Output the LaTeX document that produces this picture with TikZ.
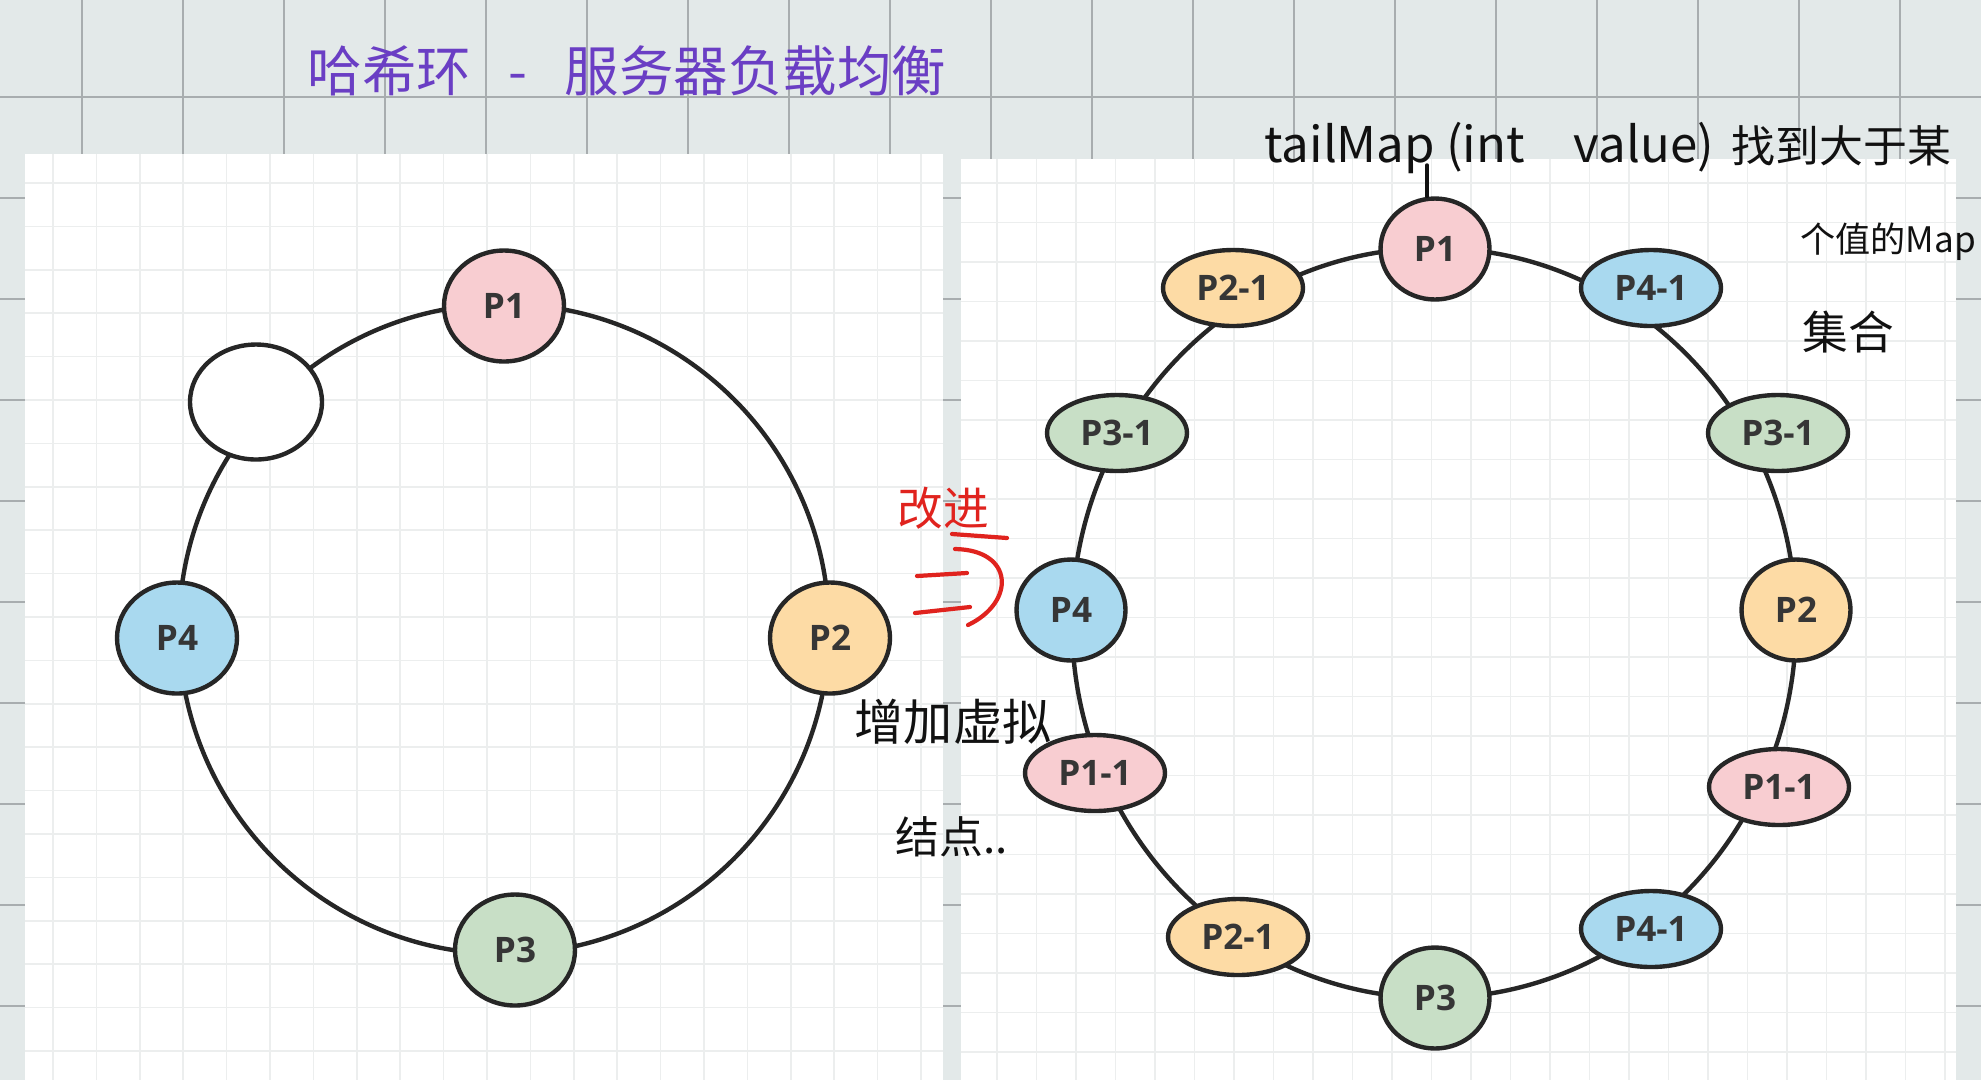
\documentclass[tikz,border=0pt]{standalone}
\usepackage{fontspec}
\usepackage{tikz}
\usetikzlibrary{shapes.geometric}

\newfontfamily\cjkfont{Noto Sans CJK SC}
\newfontfamily\labelfont{Open Sans}

\definecolor{bggray}{HTML}{E3E9E9}
\definecolor{bgline}{HTML}{A8ADAF}
\definecolor{panelline}{HTML}{ECEEEE}
\definecolor{ringline}{HTML}{262626}
\definecolor{labelgray}{HTML}{363636}
\definecolor{pinkfill}{HTML}{F8CDD1}
\definecolor{orangefill}{HTML}{FDDBA5}
\definecolor{greenfill}{HTML}{C8DFC6}
\definecolor{bluefill}{HTML}{A9D9EF}
\definecolor{penpurple}{HTML}{6A3EC4}
\definecolor{penred}{HTML}{E0231E}
\definecolor{penblack}{HTML}{111111}

\tikzset{
  srv/.style={ellipse, draw=ringline, line width=2.5pt, inner sep=0pt,
    font=\labelfont\bfseries\fontsize{20}{20}\selectfont, text=labelgray},
  bigsrv/.style={srv, minimum width=2.4cm, minimum height=2.22cm},
  smallsrv/.style={srv, minimum width=2.18cm, minimum height=2.02cm},
  virtsrv/.style={srv, minimum width=2.8cm, minimum height=1.52cm},
  ring/.style={draw=ringline, line width=2.5pt},
  bggrid/.style={bgline, line width=0.8pt},
  panelgrid/.style={panelline, line width=0.9pt},
  pen/.style={penblack, line width=2pt, line cap=round},
  redpen/.style={penred, line width=2.4pt, line cap=round},
}

\begin{document}
\begin{tikzpicture}[x=0.02cm,y=-0.02cm]
\useasboundingbox (0,0) rectangle (1981,1080);
\fill[bggray] (0,0) rectangle (1981,1080);
\foreach \x in {0,1,...,18} {
\draw[bggrid] (82+101*\x,0) -- (82+101*\x,1080);
}
\foreach \y in {0,1,...,9} {
\draw[bggrid] (0,97+101*\y) -- (1981,97+101*\y);
}

% the two pasted panels
\fill[white] (25,154) rectangle (943,1080);
\fill[white] (961,159) rectangle (1956,1080);
\foreach \x in {0,1,...,20} {
\draw[panelgrid] (53+43.4*\x,154) -- (53+43.4*\x,1080);
}
\foreach \y in {0,1,...,20} {
\draw[panelgrid] (25,183+43.4*\y) -- (943,183+43.4*\y);
}
\foreach \x in {0,1,...,24} {
\draw[panelgrid] (997+39.5*\x,159) -- (997+39.5*\x,1080);
}
\foreach \y in {0,1,...,22} {
\draw[panelgrid] (961,183+39.5*\y) -- (1956,183+39.5*\y);
}

% left ring
\coordinate (lc) at (504,629);
\draw[ring] (lc) circle (325);
\node[bigsrv, fill=pinkfill] (lP1) at (504,306) {P1};
\node[bigsrv, fill=orangefill] (lP2) at (830,638) {P2};
\node[bigsrv, fill=greenfill] (lP3) at (515,950) {P3};
\node[bigsrv, fill=bluefill] (lP4) at (177,638) {P4};
\node[srv, fill=white, minimum width=2.64cm, minimum height=2.3cm] (lnew) at (256,402) {};

% right ring with virtual nodes
\coordinate (rc) at (1434,623);
\draw[ring] (rc) ellipse [x radius=362, y radius=375];
\node[smallsrv, fill=pinkfill] (rP1) at (1435,249) {P1};
\node[smallsrv, fill=orangefill] (rP2) at (1796,610) {P2};
\node[smallsrv, fill=greenfill] (rP3) at (1435,998) {P3};
\node[smallsrv, fill=bluefill] (rP4) at (1071,610) {P4};
\node[virtsrv, fill=orangefill] (rP21a) at (1233,288) {P2-1};
\node[virtsrv, fill=bluefill] (rP41a) at (1651,288) {P4-1};
\node[virtsrv, fill=greenfill] (rP31a) at (1117,433) {P3-1};
\node[virtsrv, fill=greenfill] (rP31b) at (1778,433) {P3-1};
\node[virtsrv, fill=pinkfill] (rP11a) at (1095,773) {P1-1};
\node[virtsrv, fill=pinkfill] (rP11b) at (1779,787) {P1-1};
\node[virtsrv, fill=orangefill] (rP21b) at (1238,937) {P2-1};
\node[virtsrv, fill=bluefill] (rP41b) at (1651,929) {P4-1};

% handwritten notes
\node[text=penpurple, font=\cjkfont\fontsize{31}{31}\selectfont] (title) at (627,71)
  {哈希环\hspace{0.75cm}-\hspace{0.75cm}服务器负载均衡};
\node[text=penblack, anchor=base west, inner sep=0pt, font=\cjkfont] (tailmap) at (1264,162)
  {{\fontsize{28}{28}\selectfont tailMap (int\quad value)}\hspace{0.35cm}{\fontsize{25}{25}\selectfont 找到大于某}};
\node[text=penblack, anchor=base west, inner sep=0pt, font=\cjkfont\fontsize{20}{20}\selectfont] (tailmap2) at (1800,252) {个值的Map};
\node[text=penblack, anchor=base west, inner sep=0pt, font=\cjkfont\fontsize{26}{26}\selectfont] (tailmap3) at (1802,349) {集合};
\coordinate (pstem) at (1427,165);
\draw[pen] (pstem) -- (pstem |- rP1.north);

\node[text=penred, font=\cjkfont\fontsize{26}{26}\selectfont] (improve) at (943,508) {改进};
\draw[redpen] (952,534) -- (1007,538);
\draw[redpen] (955,549) .. controls (1014,550) and (1016,602) .. (968,625);
\draw[redpen] (917,576) -- (967,573);
\draw[redpen] (915,613) -- (970,607);

\node[text=penblack, font=\cjkfont\fontsize{28}{28}\selectfont] (addvirt) at (953,722) {增加虚拟};
\node[text=penblack, anchor=west, inner sep=0pt, font=\cjkfont\fontsize{25}{25}\selectfont] (addvirt2) at (895,837) {结点..};
\end{tikzpicture}
\end{document}
